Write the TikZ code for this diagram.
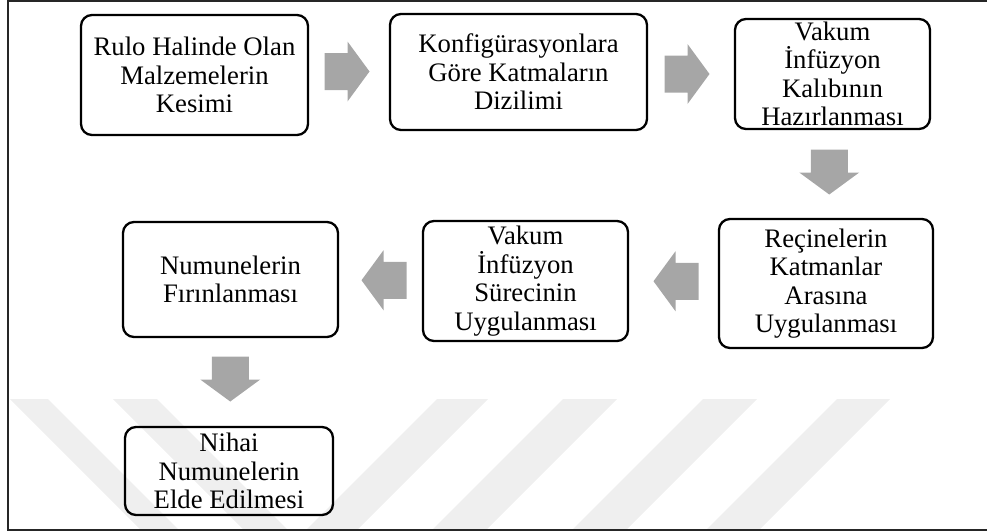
\documentclass[tikz,border=0pt]{standalone}
\usepackage{fontspec}
\setmainfont{Liberation Serif}
\usetikzlibrary{calc}
\definecolor{arrowgray}{RGB}{166,166,166}
\definecolor{wmgray}{RGB}{239,239,239}
\tikzset{
  stepbox/.style={draw=black, line width=2.3pt, rounded corners=11pt, inner sep=0pt,
    align=center, font=\fontsize{26.7}{28.5}\selectfont},
  band/.style={fill=wmgray, draw=none},
  blockarrow/.pic={\fill[arrowgray] (-23,-18.5) -- (0,-18.5) -- (0,-30) -- (22,0) -- (0,30) -- (0,18.5) -- (-23,18.5) -- cycle;}
}
\begin{document}
\begin{tikzpicture}[x=1pt,y=-1pt]
\useasboundingbox (0,0) rectangle (987,531);
% watermark bands
\begin{scope}
\clip (8,1) rectangle (987,530);
\fill[band] (10,399) -- (48,399) -- (180,531) -- (142,531) -- cycle;
\fill[band] (113,399) -- (157,399) -- (289,531) -- (245,531) -- cycle;
\fill[band] (437,399) -- (488,399) -- (356,531) -- (305,531) -- cycle;
\fill[band] (563,399) -- (617,399) -- (485,531) -- (431,531) -- cycle;
\fill[band] (703,399) -- (757,399) -- (625,531) -- (571,531) -- cycle;
\fill[band] (837,399) -- (890,399) -- (758,531) -- (705,531) -- cycle;
\end{scope}
% frame
\draw[line width=1.2pt, draw=black!85] (987,1) -- (8,1) -- (8,530) -- (987,530);
% boxes
\node[stepbox, minimum width=227pt, minimum height=120pt] (b1) at (194.5,75) {Rulo Halinde Olan\\Malzemelerin\\Kesimi};
\node[stepbox, minimum width=257pt, minimum height=116pt] (b2) at (518.5,72) {Konfigürasyonlara\\Göre Katmaların\\Dizilimi};
\node[stepbox, minimum width=195pt, minimum height=110pt] (b3) at (832.5,74) {Vakum\\İnfüzyon\\Kalıbının\\Hazırlanması};
\node[stepbox, minimum width=214pt, minimum height=129pt] (b6) at (826,283.5) {Reçinelerin\\Katmanlar\\Arasına\\Uygulanması};
\node[stepbox, minimum width=205pt, minimum height=120pt] (b5) at (525.5,281) {Vakum\\İnfüzyon\\Sürecinin\\Uygulanması};
\node[stepbox, minimum width=215pt, minimum height=115pt] (b4) at (230.5,279.5) {Numunelerin\\Fırınlanması};
\node[stepbox, minimum width=208pt, minimum height=88pt] (b7) at (229,471) {Nihai\\Numunelerin\\Elde Edilmesi};
% block arrows between boxes
\pic at ($(b1.east)!0.5!(b2.west)+(-1.5,-2)$) {blockarrow};
\pic at ($(b2.east)!0.5!(b3.west)+(-3.5,1)$) {blockarrow};
\pic[rotate=-90] at ($(b3.south)!0.5!(b6.north)+(0,-1.5)$) {blockarrow};
\pic[rotate=180] at ($(b6.west)!0.5!(b5.east)+(2,-1)$) {blockarrow};
\pic[rotate=180] at ($(b5.west)!0.5!(b4.east)+(3,0)$) {blockarrow};
\pic[rotate=-90] at ($(b4.south)!0.5!(b7.north)+(0.5,-2.5)$) {blockarrow};
\end{tikzpicture}
\end{document}
